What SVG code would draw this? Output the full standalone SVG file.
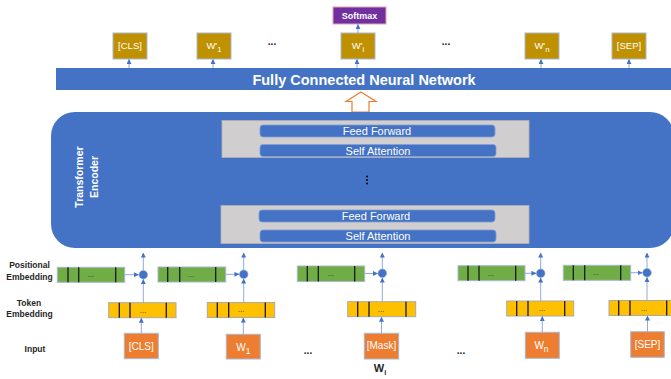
<svg xmlns="http://www.w3.org/2000/svg" width="671" height="379" viewBox="0 0 671 379">
<style>
text{font-family:"Liberation Sans",Arial,sans-serif}
.out{fill:#BF9000;stroke:#A9B8D0;stroke-width:1}
.outt{fill:#fff;font-size:9.5px;text-anchor:middle}
.blue{fill:#4472C4}
.grey{fill:#D0CECE;stroke:#B4B1B1;stroke-width:0.8}
.bar{fill:#4472C4;stroke:#7F9FD8;stroke-width:0.8}
.bart{fill:#fff;font-size:11px;text-anchor:middle}
.green{fill:#70AD47;stroke:#A9B8D0;stroke-width:1}
.yellow{fill:#FFC000;stroke:#A9A9A9;stroke-width:1}
.div{stroke:#1a1a1a;stroke-width:1.3}
.dots{fill:#333;font-size:8px;text-anchor:middle}
.inp{fill:#ED7D31;stroke:#A9B8D0;stroke-width:1}
.inpt{fill:#fff;font-size:10px;text-anchor:middle}
.lbl{fill:#262626;font-size:8.5px;font-weight:bold;text-anchor:middle}
.circ{fill:#4472C4;stroke:#8FAADC;stroke-width:0.6}
.con{stroke:#8FAADC;stroke-width:1;fill:none;marker-end:url(#ah)}
.ell{fill:#222;font-size:10px;font-weight:bold;text-anchor:middle}
</style>
<defs>
<marker id="ah" viewBox="0 0 6 6" refX="5.5" refY="3" markerWidth="5" markerHeight="5" markerUnits="userSpaceOnUse" orient="auto">
<path d="M0,0 L6,3 L0,6 z" fill="#4472C4"/>
</marker>
</defs>

<g id="softmax">
<rect x="333" y="7" width="53" height="17" fill="#7030A0" stroke="#E8A0B0" stroke-width="1"/>
<text x="359.5" y="18.5" fill="#fff" font-size="9px" font-weight="bold" text-anchor="middle">Softmax</text>
</g>
<g id="out_cls"><rect class="out" x="113" y="33" width="34" height="26"/><text class="outt" x="130" y="49">[CLS]</text></g>
<g id="out_w1"><rect class="out" x="197" y="33" width="34" height="26"/><text class="outt" x="214" y="49" font-size="11px">W'<tspan font-size="8px" dy="3">1</tspan></text></g>
<g id="out_wi"><rect class="out" x="341" y="33" width="34" height="26"/><text class="outt" x="358" y="49" font-size="11px">W'<tspan font-size="8px" dy="3">i</tspan></text></g>
<g id="out_wn"><rect class="out" x="525" y="33" width="34" height="26"/><text class="outt" x="542" y="49" font-size="11px">W'<tspan font-size="8px" dy="3">n</tspan></text></g>
<g id="out_sep"><rect class="out" x="612" y="33" width="34" height="26"/><text class="outt" x="629" y="49">[SEP]</text></g>
<text class="ell" x="272" y="45">...</text>
<text class="ell" x="446" y="45">...</text>

<g id="fcnn">
<rect class="blue" x="56" y="68" width="616" height="22"/>
<text x="364" y="84.5" fill="#fff" font-size="14.5px" font-weight="bold" text-anchor="middle">Fully Connected Neural Network</text>
</g>

<g id="hollow_arrow">
<polygon points="361,92 376,101.5 369,101.5 369,112 352,112 352,101.5 346,101.5" fill="#fff" stroke="#ED7D31" stroke-width="1.2"/>
</g>

<g id="encoder">
<rect class="blue" x="51" y="112" width="623" height="136" rx="24"/>
<text transform="translate(83,177) rotate(-90)" fill="#fff" font-size="10.5px" font-weight="bold" text-anchor="middle">Transformer</text>
<text transform="translate(98,177) rotate(-90)" fill="#fff" font-size="10.5px" font-weight="bold" text-anchor="middle">Encoder</text>
<rect class="grey" x="222" y="120.5" width="307" height="37"/>
<rect class="bar" x="260" y="125" width="235" height="12" rx="3"/>
<text class="bart" x="377" y="135">Feed Forward</text>
<rect class="bar" x="260" y="144.5" width="236" height="12" rx="3"/>
<text class="bart" x="378" y="154.5">Self Attention</text>
<circle cx="367" cy="176.5" r="1.1" fill="#111"/>
<circle cx="367" cy="180" r="1.1" fill="#111"/>
<circle cx="367" cy="183.5" r="1.1" fill="#111"/>
<rect class="grey" x="221" y="205.5" width="308" height="38"/>
<rect class="bar" x="259" y="210" width="236" height="12" rx="3"/>
<text class="bart" x="376" y="220">Feed Forward</text>
<rect class="bar" x="260" y="230" width="236" height="12" rx="3"/>
<text class="bart" x="378" y="240">Self Attention</text>
</g>

<g id="labels">
<text class="lbl" x="29.5" y="267.5">Positional</text>
<text class="lbl" x="29.5" y="279.5">Embedding</text>
<text class="lbl" x="29" y="305.5">Token</text>
<text class="lbl" x="29.5" y="317">Embedding</text>
<text class="lbl" x="35" y="352">Input</text>
</g>

<g id="col1">
<rect class="green" x="57.3" y="267.3" width="67.4" height="15"/>
<path class="div" d="M68,267.3V282.3M78.7,267.3V282.3M115.7,267.3V282.3"/>
<text class="dots" x="91" y="277">...</text>
<circle class="circ" cx="143.3" cy="274.7" r="4.3"/>
<rect class="yellow" x="108.7" y="302.7" width="67.3" height="15"/>
<path class="div" d="M119.3,302.7V317.7M130,302.7V317.7M166.3,302.7V317.7"/>
<text class="dots" x="143" y="312.5">...</text>
<rect class="inp" x="124.3" y="333.3" width="34" height="25.4"/>
<text class="inpt" x="141.3" y="349.5">[CLS]</text>
</g>
<g id="col2">
<rect class="green" x="158" y="267" width="67.7" height="15"/>
<path class="div" d="M167.7,267V282M179.7,267V282M215.7,267V282"/>
<text class="dots" x="191" y="277">...</text>
<circle class="circ" cx="243.7" cy="274.3" r="4.3"/>
<rect class="yellow" x="207.3" y="302.5" width="67.4" height="15"/>
<path class="div" d="M217.3,302.5V317.5M228.7,302.5V317.5M265.3,302.5V317.5"/>
<text class="dots" x="241" y="312.3">...</text>
<rect class="inp" x="226.3" y="334.3" width="34" height="24.7"/>
<text class="inpt" x="243.3" y="351" font-size="12px">W<tspan font-size="8.5px" dy="2.5">1</tspan></text>
</g>
<g id="col3">
<rect class="green" x="297.3" y="266" width="67.4" height="15.5"/>
<path class="div" d="M307.3,266V281.5M318.3,266V281.5M354.7,266V281.5"/>
<text class="dots" x="331" y="276">...</text>
<circle class="circ" cx="382.3" cy="273.3" r="4.3"/>
<rect class="yellow" x="347.7" y="301.7" width="68" height="15"/>
<path class="div" d="M357.7,301.7V316.7M369,301.7V316.7M406,301.7V316.7"/>
<text class="dots" x="381" y="311.5">...</text>
<rect class="inp" x="364.3" y="333.3" width="34.4" height="25.7"/>
<text class="inpt" x="381.5" y="349" font-size="7.5px">[Mask]</text>
<text x="380" y="372" fill="#262626" font-size="11px" font-weight="bold" text-anchor="middle">W<tspan font-size="7.5px" dy="2.5">i</tspan></text>
</g>
<g id="col4">
<rect class="green" x="458" y="265.7" width="67" height="15"/>
<path class="div" d="M468,265.7V280.7M479,265.7V280.7M515.7,265.7V280.7"/>
<text class="dots" x="491" y="275.5">...</text>
<circle class="circ" cx="540.7" cy="273.3" r="4.3"/>
<rect class="yellow" x="506.7" y="301" width="67" height="15"/>
<path class="div" d="M516.7,301V316M528,301V316M564.7,301V316"/>
<text class="dots" x="542" y="311">...</text>
<rect class="inp" x="525.3" y="332.3" width="34" height="26"/>
<text class="inpt" x="541.5" y="349" font-size="12px">W<tspan font-size="8.5px" dy="2.5">n</tspan></text>
</g>
<g id="col5">
<rect class="green" x="563.3" y="265.3" width="67.4" height="15"/>
<path class="div" d="M573.3,265.3V280.3M584.7,265.3V280.3M620.7,265.3V280.3"/>
<text class="dots" x="596" y="275">...</text>
<circle class="circ" cx="647" cy="272.7" r="4.3"/>
<rect class="yellow" x="609" y="300.5" width="68" height="15"/>
<path class="div" d="M618.7,300.5V315.5M630,300.5V315.5M666.7,300.5V315.5"/>
<text class="dots" x="644" y="310.5">...</text>
<rect class="inp" x="630.7" y="331.7" width="33.6" height="25.6"/>
<text class="inpt" x="647.5" y="348">[SEP]</text>
</g>
<text class="ell" x="308" y="354">...</text>
<text class="ell" x="461" y="354">...</text>

<g id="connectors">
<path class="con" d="M358,33V24.5"/>
<path class="con" d="M129,68V59.5"/>
<path class="con" d="M213,68V59.5"/>
<path class="con" d="M357,68V59.5"/>
<path class="con" d="M541,68V59.5"/>
<path class="con" d="M629,68V59.5"/>
<path class="con" d="M124.7,274.7H138.5"/>
<path class="con" d="M225.7,274.3H239"/>
<path class="con" d="M364.7,273.5H377.5"/>
<path class="con" d="M525,273.3H536"/>
<path class="con" d="M630.7,272.7H642.2"/>
<path class="con" d="M143.3,302.7V279.5"/>
<path class="con" d="M243.7,302.5V279"/>
<path class="con" d="M382.3,301.7V278"/>
<path class="con" d="M540.7,301V278"/>
<path class="con" d="M647,300.5V277.5"/>
<path class="con" d="M143.3,270.4V253"/>
<path class="con" d="M243.7,270V253"/>
<path class="con" d="M382.3,269V253"/>
<path class="con" d="M540.7,269V253"/>
<path class="con" d="M647,268.4V253"/>
<path class="con" d="M141.3,333.3V318.2"/>
<path class="con" d="M243.3,334.3V318"/>
<path class="con" d="M381.5,333.3V317.2"/>
<path class="con" d="M542.3,332.3V316.5"/>
<path class="con" d="M647.5,331.7V316"/>
</g>
</svg>
